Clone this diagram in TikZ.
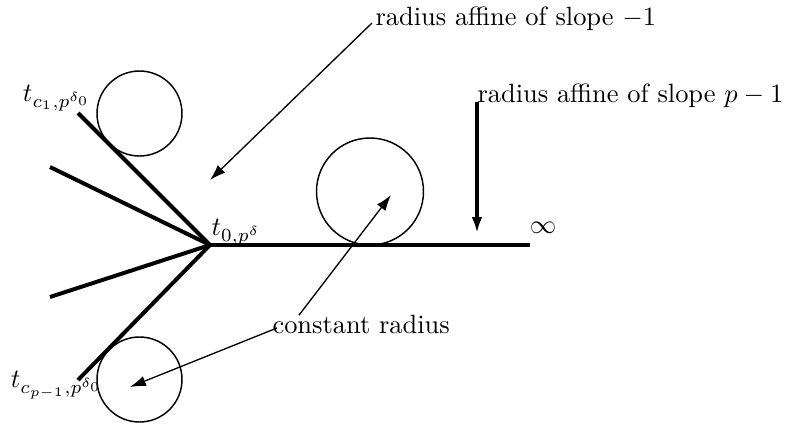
\documentclass[tikz,border=0pt]{standalone}
\usetikzlibrary{arrows.meta}
\begin{document}
\begin{tikzpicture}[x=0.0133cm,y=-0.0133cm,
    ray/.style={line width=1.5pt},
    disc/.style={line width=0.55pt},
    pointer/.style={line width=0.5pt,-{Latex[length=6pt,width=4pt]}}]
  \useasboundingbox (0,0) rectangle (789,430);

  % Points of the tree
  \coordinate (o) at (210,245);
  \coordinate (inf) at (530,245);
  \coordinate (r1) at (78,113);
  \coordinate (r2) at (50,167);
  \coordinate (r3) at (50,297);
  \coordinate (r4) at (78,380);

  % Draw rays
  \draw[ray] (o) -- (inf);
  \foreach \r in {r1,r2,r3,r4} {
    \draw[ray] (o) -- (\r);
  }

  % Draw circles
  \draw[disc] (139.5,113.5) circle (42.5);
  \draw[disc] (139.5,379.5) circle (42.5);
  \draw[disc] (370,191.5) circle (53.5);

  % Add labels
  \node (t1) at (57,98) {$t_{c_1,p^{\delta_0}}$};
  \node (tp) at (57,385) {$t_{c_{p-1},p^{\delta_0}}$};
  \node (t0) at (236,232) {$t_{0,p^{\delta}}$};
  \node (ifty) at (543,228) {$\infty$};
  \node[anchor=base west,inner sep=0pt] (slope1) at (375,25) {radius affine of slope $-1$};
  \node[anchor=base west,inner sep=0pt] (slopep) at (477,102) {radius affine of slope $p-1$};
  \node[anchor=base west,inner sep=0pt] (const) at (272,333) {constant radius};

  % Draw pointers
  \coordinate (a1) at (210,180);
  \coordinate (a2) at (477,233);
  \coordinate (a3) at (391,195);
  \coordinate (a4) at (130,387);
  \draw[pointer] (slope1.base west) ++(-3,-2) -- (a1);
  \draw[pointer,line width=1.5pt] (slopep.base west) -- (a2);
  \draw[pointer] (const.north west) ++(27,1) -- (a3);
  \draw[pointer] (const.west) ++(5,4) -- (a4);
\end{tikzpicture}
\end{document}
